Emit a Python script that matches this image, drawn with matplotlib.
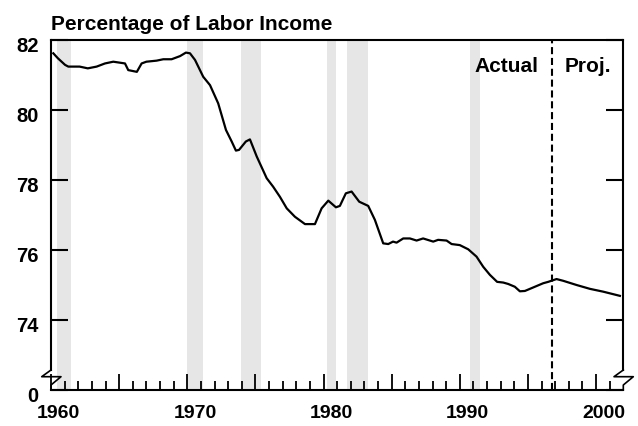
import matplotlib
matplotlib.use("Agg")
import matplotlib.pyplot as plt
from matplotlib.transforms import ScaledTranslation
import numpy as np

plt.rcParams['font.family'] = ['Liberation Sans', 'DejaVu Sans']

# ---- data ----
years = [1960.17, 1960.5, 1961.03, 1961.27, 1962.1, 1962.7, 1963.35, 1963.96, 1964.57,
         1965.43, 1965.67, 1966.3, 1966.65, 1967.0, 1967.75, 1968.24, 1968.85, 1969.47,
         1969.9, 1970.2, 1970.57, 1971.17, 1971.67, 1972.27, 1972.84, 1973.26, 1973.57,
         1973.8, 1974.3, 1974.6, 1975.1, 1975.83, 1976.3, 1976.8, 1977.3, 1977.9,
         1978.64, 1979.37, 1979.86, 1980.35, 1980.91, 1981.2, 1981.64, 1982.06, 1982.62,
         1983.28, 1983.77, 1984.38, 1984.75, 1985.1, 1985.36, 1985.85, 1986.34, 1986.83,
         1987.31, 1988.05, 1988.41, 1989.03, 1989.4, 1990.0, 1990.62, 1991.23, 1991.72,
         1992.21, 1992.74, 1993.19, 1993.55, 1994.04, 1994.41, 1994.78, 1995.39, 1996.12,
         1996.49, 1997.1, 1997.59, 1998.57, 1999.55, 2000.52, 2001.75]
labor_share = [81.62, 81.48, 81.29, 81.24, 81.24, 81.19, 81.24, 81.33, 81.38,
               81.33, 81.14, 81.09, 81.33, 81.38, 81.41, 81.45, 81.45, 81.54,
               81.64, 81.62, 81.43, 80.95, 80.71, 80.19, 79.43, 79.10, 78.84,
               78.86, 79.10, 79.16, 78.67, 78.05, 77.81, 77.52, 77.19, 76.95,
               76.74, 76.74, 77.19, 77.41, 77.22, 77.26, 77.62, 77.67, 77.38,
               77.26, 76.86, 76.19, 76.17, 76.24, 76.21, 76.33, 76.33, 76.27,
               76.33, 76.24, 76.29, 76.27, 76.17, 76.14, 76.02, 75.81, 75.52,
               75.29, 75.09, 75.07, 75.03, 74.95, 74.82, 74.83, 74.93, 75.05,
               75.09, 75.17, 75.12, 75.00, 74.89, 74.81, 74.69]
recession_start = [1960.46, 1970.0, 1973.96, 1980.27, 1981.74, 1990.76]
recession_end = [1961.44, 1971.13, 1975.39, 1980.89, 1983.23, 1991.47]
projection_start = 1996.75
y_ticks = [72, 74, 76, 78, 80, 82]
y_tick_labels = ['0', '74', '76', '78', '80', '82']
x_label_years = [1960, 1970, 1980, 1990, 2000]
title = "Percentage of Labor Income"

# ---- figure ----
W, H = 638, 426
fig = plt.figure(figsize=(W / 100, H / 100), dpi=100)
ax = fig.add_axes([51 / W, 1 - 390 / H, (623.3 - 51) / W, 350 / H])
ax.set_xlim(1960, 2002)
ax.set_ylim(72, 82)

for s, e in zip(recession_start, recession_end):
    ax.axvspan(s, e, color='#e6e6e6', lw=0, zorder=0)

ax.plot(years, labor_share, color='black', lw=1.6, zorder=3)
ax.axvline(projection_start, color='black', lw=1.5, ls=(0, (3.4, 1.8)), zorder=2)

ax.text(projection_start - 1.0, 81.09, 'Actual', ha='right', va='baseline',
        fontsize=15, fontweight='bold')
ax.text(projection_start + 0.97, 81.09, 'Proj.', ha='left', va='baseline',
        fontsize=15, fontweight='bold')

# spines
for side in ['left', 'right', 'top', 'bottom']:
    ax.spines[side].set_linewidth(1.5)
brk = 72 + 20 / 35
ax.spines['left'].set_bounds(brk, 82)
ax.spines['right'].set_bounds(brk, 82)

def zigzag(x0):
    # axis-break symbol, offsets in pixels
    px = np.array([0, -9.3, 10, 0, 0])
    py = np.array([brk, 72 + 13.3 / 35, 72 + 13.3 / 35, 72 + 5 / 35, 72])
    ax.plot(x0 + px / 13.63, py, color='black', lw=1.2, clip_on=False, zorder=5)

zigzag(1960)
zigzag(2002)

# y ticks
ax.set_yticks(y_ticks)
ax.set_yticklabels(y_tick_labels)
ax.tick_params(axis='y', direction='in', length=12.5, width=1.5, left=True, right=True,
               labelsize=14.5, pad=9)
yoff = ScaledTranslation(0, -4 / 100, fig.dpi_scale_trans)
for lab in ax.get_yticklabels():
    lab.set_fontweight('bold')
    lab.set_transform(lab.get_transform() + yoff)

# x ticks
ax.set_xticks(np.arange(1960, 2001, 5))
ax.set_xticks(np.arange(1960, 2002, 1), minor=True)
ax.set_xticklabels([str(y) if y in x_label_years else '' for y in range(1960, 2001, 5)])
ax.tick_params(axis='x', which='major', direction='in', length=11.5, width=1.3,
               labelsize=14, pad=10.5)
ax.tick_params(axis='x', which='minor', direction='in', length=6.5, width=1.3)
off = ScaledTranslation(7.8 / 100, 0, fig.dpi_scale_trans)
for lab in ax.get_xticklabels():
    lab.set_fontweight('bold')
    lab.set_transform(lab.get_transform() + off)

fig.text(51 / W, 1 - 30 / H, title, ha='left', va='baseline', fontsize=15,
         fontweight='bold')

fig.savefig('out.png', dpi=100)
